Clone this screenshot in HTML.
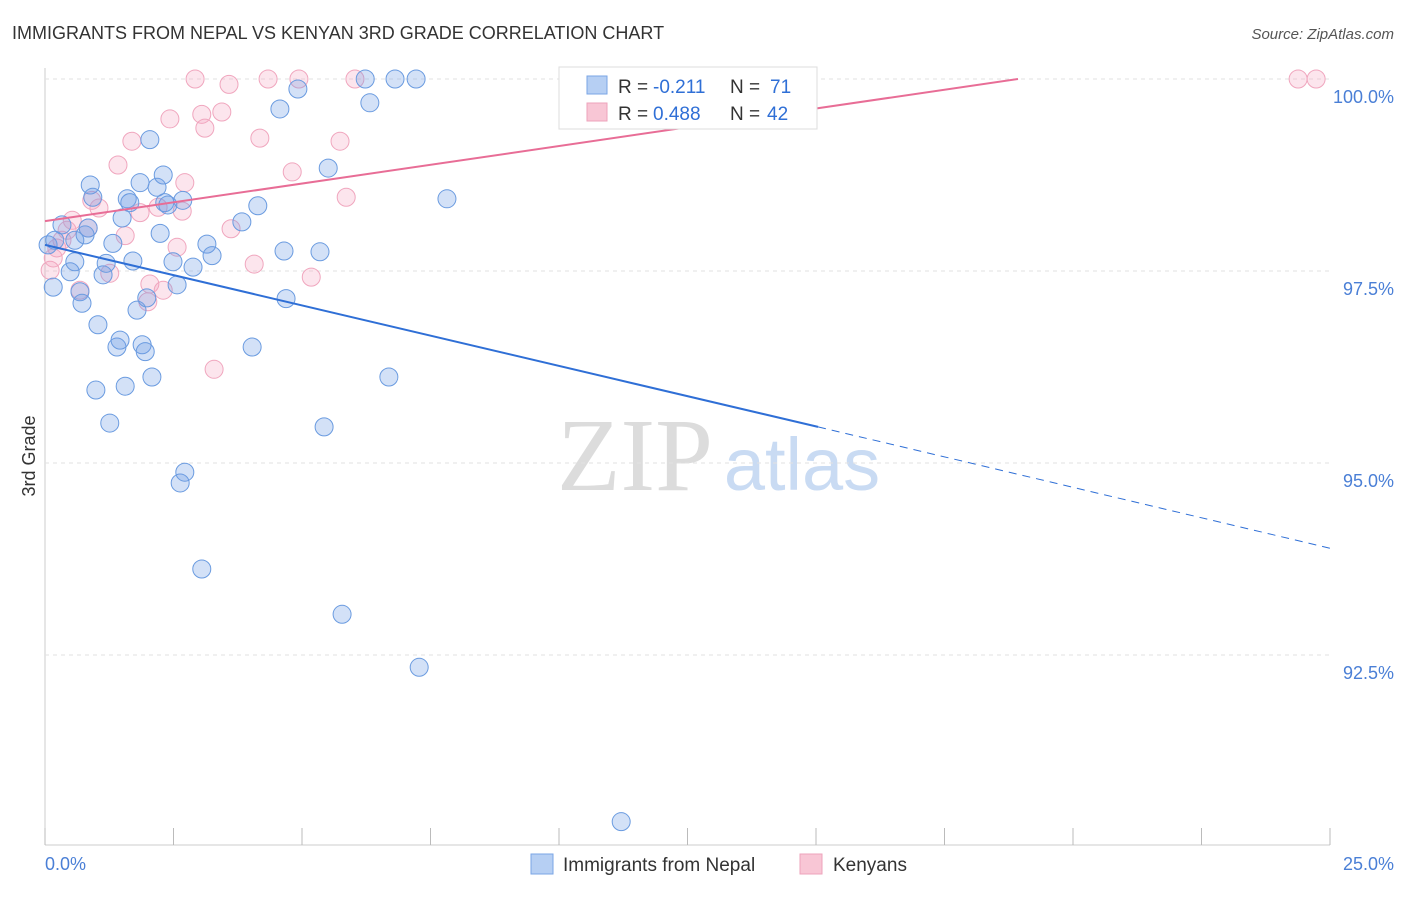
<!DOCTYPE html>
<html><head><meta charset="utf-8"><style>
body{margin:0;background:#fff;font-family:"Liberation Sans",sans-serif;}
svg text{font-family:"Liberation Sans",sans-serif;}
</style></head><body>
<svg id="chart" width="1406" height="892">
<text x="12" y="39" font-size="18" fill="#333">IMMIGRANTS FROM NEPAL VS KENYAN 3RD GRADE CORRELATION CHART</text>
<text x="1394" y="39" font-size="15" fill="#555" font-style="italic" text-anchor="end">Source: ZipAtlas.com</text>
<text x="35" y="456" font-size="18" fill="#333" transform="rotate(-90 35 456)" text-anchor="middle">3rd Grade</text>
<text x="635" y="490" font-size="104" fill="#dcdcdc" text-anchor="middle" style="font-family:'Liberation Serif',serif">ZIP</text>
<text x="802" y="490" font-size="74" fill="#c9dbf3" text-anchor="middle">atlas</text>
<g id="grid"></g><g id="pts"></g><g id="trend"></g>
<text x="45" y="870" font-size="18" fill="#4a7fd6">0.0%</text>
<text x="1394" y="870" font-size="18" fill="#4a7fd6" text-anchor="end">25.0%</text>
<g>
<rect x="559" y="67" width="258" height="62" fill="#fff" stroke="#ddd"/>
<rect x="587" y="76" width="20" height="18" fill="#b6cff3" stroke="#7aa5e6"/>
<rect x="587" y="103" width="20" height="18" fill="#f8c6d5" stroke="#eea3bb"/>
<text x="618" y="93" font-size="19" fill="#333">R =</text>
<text x="653" y="93" font-size="19" fill="#2f6fd6">-0.211</text>
<text x="730" y="93" font-size="19" fill="#333">N =</text>
<text x="770" y="93" font-size="19" fill="#2f6fd6">71</text>
<text x="618" y="120" font-size="19" fill="#333">R =</text>
<text x="653" y="120" font-size="19" fill="#2f6fd6">0.488</text>
<text x="730" y="120" font-size="19" fill="#333">N =</text>
<text x="767" y="120" font-size="19" fill="#2f6fd6">42</text>
</g>
<g>
<rect x="531" y="854" width="22" height="20" fill="#b6cff3" stroke="#7aa5e6"/>
<text x="563" y="871" font-size="19" fill="#333">Immigrants from Nepal</text>
<rect x="800" y="854" width="22" height="20" fill="#f8c6d5" stroke="#eea3bb"/>
<text x="833" y="871" font-size="19" fill="#333">Kenyans</text>
</g>
</svg>
<script>
const yTicks=[100,97.5,95,92.5];
const yTickLabels=["100.0%","97.5%","95.0%","92.5%"];
const xTicks=[0,2.5,5,7.5,10,12.5,15,17.5,20,22.5,25];
const nepalX=[0.16,0.06,0.19,0.33,0.49,0.58,0.58,0.68,0.72,0.78,0.84,0.88,0.93,1.03,0.99,1.13,1.19,1.26,1.32,1.40,1.46,1.50,1.56,1.60,1.65,1.71,1.79,1.85,1.89,1.95,1.98,2.04,2.08,2.18,2.24,2.30,2.33,2.39,2.49,2.57,2.63,2.68,2.72,2.88,3.05,3.15,3.25,3.83,4.03,4.14,4.57,4.65,4.69,4.92,5.35,5.43,5.51,5.78,6.23,6.32,6.69,6.81,7.22,7.28,7.82,11.21];
const nepalY=[97.29,97.84,97.90,98.10,97.49,97.90,97.62,97.23,97.08,97.97,98.06,98.62,98.46,96.80,95.95,97.45,97.60,95.52,97.86,96.51,96.60,98.19,96.00,98.44,98.39,97.63,96.99,98.65,96.54,96.45,97.15,99.21,96.12,98.59,97.99,98.75,98.39,98.36,97.62,97.32,94.74,98.42,94.88,97.55,93.62,97.85,97.70,98.14,96.51,98.35,99.61,97.76,97.14,99.87,97.75,95.47,98.84,93.03,100,99.69,96.12,100,100,92.34,98.44,90.33];
const kenyaX=[0.10,0.16,0.23,0.33,0.43,0.53,0.68,0.84,0.91,1.05,1.26,1.42,1.56,1.69,1.85,2.00,2.04,2.20,2.43,2.57,2.67,2.72,2.30,2.92,3.05,3.11,3.29,3.44,3.58,3.62,4.07,4.18,4.34,4.81,4.94,5.18,5.74,5.86,6.03,10.33,24.38,24.73];
const kenyaY=[97.51,97.67,97.80,97.90,98.03,98.16,97.25,98.06,98.42,98.32,97.47,98.88,97.96,99.19,98.26,97.10,97.33,98.33,99.48,97.81,98.28,98.65,97.25,100,99.54,99.36,96.22,99.57,99.93,98.05,97.59,99.23,100,98.79,100,97.42,99.19,98.46,100,100,100,100];
const nepalTrend=[0,97.84,15.04,95.47,25,93.89];
const kenyaTrend=[0,98.15,18.93,100];
const X=v=>45+v/25*1285, Y=v=>79+(100-v)*76.8;
const NS="http://www.w3.org/2000/svg";
function mk(parent,tag,attrs){const e=document.createElementNS(NS,tag);for(const k in attrs)e.setAttribute(k,attrs[k]);document.getElementById(parent).appendChild(e);return e;}
let e;
e=mk('grid','line',{x1:45,y1:68,x2:45,y2:845,stroke:'#ccc'});


e=mk('grid','line',{x1:45,y1:845,x2:1330,y2:845,stroke:'#ccc'});


yTicks.forEach((t,i)=>{
 e=mk('grid','line',{x1:45,x2:1330,y1:Y(t),y2:Y(t),stroke:'#e2e2e2','stroke-dasharray':'4,4'});
 
 
 e=mk('grid','text',{x:1394,y:Y(t)+24,'font-size':18,fill:'#4a7fd6','text-anchor':'end'});
 e.textContent=yTickLabels[i];
 
 
});
xTicks.forEach(t=>{
 e=mk('grid','line',{x1:X(t),x2:X(t),y1:828,y2:845,stroke:'#bbb'});
 
 
});
kenyaX.forEach((x,i)=>{
 e=mk('pts','circle',{cx:X(x),cy:Y(kenyaY[i]),r:9,fill:'rgba(243,160,190,0.28)',stroke:'#f0a6be','stroke-width':1});
 
 
});
nepalX.forEach((x,i)=>{
 e=mk('pts','circle',{cx:X(x),cy:Y(nepalY[i]),r:9,fill:'rgba(110,155,230,0.3)',stroke:'#6a9be0','stroke-width':1});
 
 
});
e=mk('trend','line',{x1:X(nepalTrend[0]),y1:Y(nepalTrend[1]),x2:X(nepalTrend[2]),y2:Y(nepalTrend[3]),stroke:'#2f6fd6','stroke-width':2});


e=mk('trend','line',{x1:X(nepalTrend[2]),y1:Y(nepalTrend[3]),x2:X(nepalTrend[4]),y2:Y(nepalTrend[5]),stroke:'#2f6fd6','stroke-width':1,'stroke-dasharray':'8,6'});


e=mk('trend','line',{x1:X(kenyaTrend[0]),y1:Y(kenyaTrend[1]),x2:X(kenyaTrend[2]),y2:Y(kenyaTrend[3]),stroke:'#e86d96','stroke-width':2});


</script>
</body></html>
